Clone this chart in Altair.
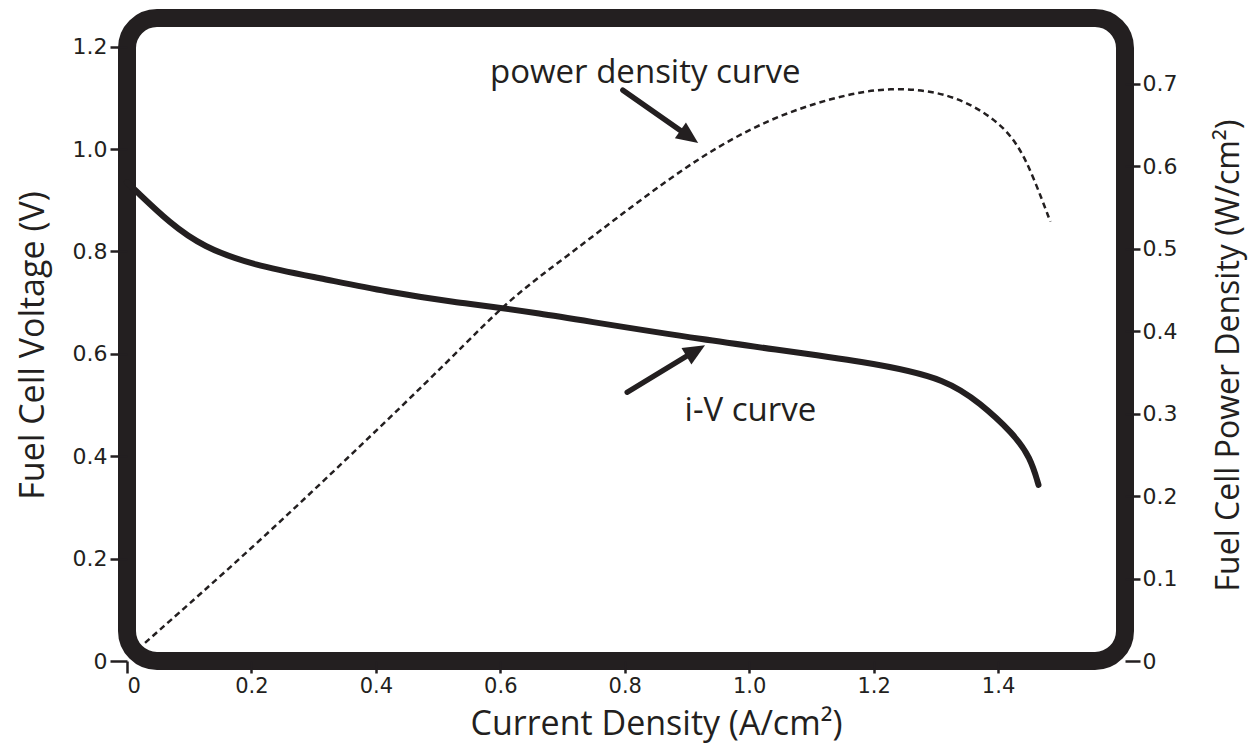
import altair as alt
import pandas as pd

# i-V curve (current density A/cm2, voltage V)
iv_current = [0.0, 0.013, 0.069, 0.122, 0.203, 0.310, 0.418, 0.524, 0.632, 0.921, 1.211, 1.318, 1.371, 1.424, 1.452, 1.465]
iv_voltage = [0.935, 0.920, 0.855, 0.809, 0.773, 0.748, 0.721, 0.701, 0.686, 0.627, 0.582, 0.549, 0.504, 0.445, 0.398, 0.344]

# power density curve (current density A/cm2, power W/cm2)
pw_current = [0.029, 0.203, 0.363, 0.524, 0.611, 0.707, 0.814, 0.921, 1.029, 1.135, 1.227, 1.323, 1.392, 1.431, 1.457, 1.484]
pw_power = [0.022, 0.138, 0.252, 0.369, 0.437, 0.491, 0.553, 0.612, 0.657, 0.684, 0.697, 0.689, 0.660, 0.629, 0.587, 0.533]

# annotations (in current / voltage units)
ann_text = ["power density curve", "i-V curve"]
ann_x = [0.833, 1.002]
ann_y = [1.148, 0.488]

arrow_id = ["power", "power", "iv", "iv"]
arrow_x = [0.797, 0.905, 0.804, 0.915]
arrow_y = [1.115, 1.023, 0.525, 0.607]

head_x = [0.918, 0.929]
head_y = [1.012, 0.617]
head_angle = [125, 59]

x_ticks = [0, 0.2, 0.4, 0.6, 0.8, 1.0, 1.2, 1.4]
v_ticks = [0, 0.2, 0.4, 0.6, 0.8, 1.0, 1.2]
p_ticks = [0, 0.1, 0.2, 0.3, 0.4, 0.5, 0.6, 0.7]

INK = "#231f20"
X_DOM = [0, 1.604]
V_DOM = [0, 1.256]
P_DOM = [0, 0.780]

iv_df = pd.DataFrame({"i": iv_current, "v": iv_voltage})
pw_df = pd.DataFrame({"i": pw_current, "p": pw_power})
txt_df = pd.DataFrame({"t": ann_text, "i": ann_x, "v": ann_y})
arr_df = pd.DataFrame({"g": arrow_id, "i": arrow_x, "v": arrow_y, "o": [0, 1, 0, 1]})
head_df = pd.DataFrame({"i": head_x, "v": head_y, "a": head_angle})

lbl = "datum.value == 0 ? '0' : format(datum.value, '.1f')"

x_axis = alt.Axis(values=x_ticks, labelExpr=lbl, domain=False, grid=False,
                  tickSize=12, tickWidth=2.5, tickColor=INK,
                  labelFont="DejaVu Sans", labelFontSize=21, labelColor=INK, labelPadding=2,
                  title="Current Density (A/cm²)", titleFont="Open Sans", titleFontSize=34,
                  titleFontWeight="normal", titleColor=INK, titleX=529, titleY=63,
                  titleBaseline="middle")
v_axis = alt.Axis(values=v_ticks, labelExpr=lbl, domain=False, grid=False,
                  tickSize=17, tickWidth=2.5, tickColor=INK,
                  labelFont="DejaVu Sans", labelFontSize=22, labelColor=INK, labelPadding=3,
                  title="Fuel Cell Voltage (V)", titleFont="Liberation Sans Narrow, Open Sans",
                  titleFontSize=34, titleFontWeight="normal", titleColor=INK,
                  titleAngle=270, titleX=-94, titleY=327, titleBaseline="middle")
p_axis = alt.Axis(orient="right", values=p_ticks, labelExpr=lbl, domain=False, grid=False,
                  tickSize=15, tickWidth=2.5, tickColor=INK,
                  labelFont="DejaVu Sans", labelFontSize=22, labelColor=INK, labelPadding=2,
                  title="Fuel Cell Power Density (W/cm²)",
                  titleFont="Liberation Sans Narrow, Open Sans",
                  titleFontSize=32, titleFontWeight="normal", titleColor=INK,
                  titleAngle=270, titleX=103, titleY=337, titleBaseline="middle")

X = alt.X("i:Q", scale=alt.Scale(domain=X_DOM, nice=False, zero=False), axis=x_axis)
V = alt.Y("v:Q", scale=alt.Scale(domain=V_DOM, nice=False), axis=v_axis)

iv_line = alt.Chart(iv_df).mark_line(color=INK, strokeWidth=6, interpolate="basis",
                                     strokeCap="round").encode(x=X, y=V)

arrows = alt.Chart(arr_df).mark_line(color=INK, strokeWidth=5.5, strokeCap="round").encode(
    x=X, y=V, detail="g:N", order="o:Q")

heads = alt.Chart(head_df).mark_point(
    shape="M0,0L0.8,1.8L-0.8,1.8Z", filled=True, fill=INK, opacity=1,
    strokeWidth=0, size=580).encode(x=X, y=V, angle=alt.Angle("a:Q", scale=None))

texts = alt.Chart(txt_df).mark_text(font="Open Sans", fontSize=33, color=INK,
                                    align="center", baseline="middle").encode(
    x=X, y=V, text="t:N")

left = alt.layer(iv_line, arrows, heads, texts)

power = alt.Chart(pw_df).mark_line(color=INK, strokeWidth=2.5, strokeDash=[6, 4],
                                   interpolate="basis").encode(
    x=X, y=alt.Y("p:Q", scale=alt.Scale(domain=P_DOM, nice=False), axis=p_axis))

chart = alt.layer(left, power).resolve_scale(y="independent").properties(
    width=998, height=643,
    autosize=alt.AutoSizeParams(type="none"),
    padding={"left": 127, "top": 18, "right": 135, "bottom": 83},
    background="white",
).configure_view(stroke=INK, strokeWidth=18, cornerRadius=30, fill="white")

chart.save("out.html", embed_options={"renderer": "svg", "actions": False})
